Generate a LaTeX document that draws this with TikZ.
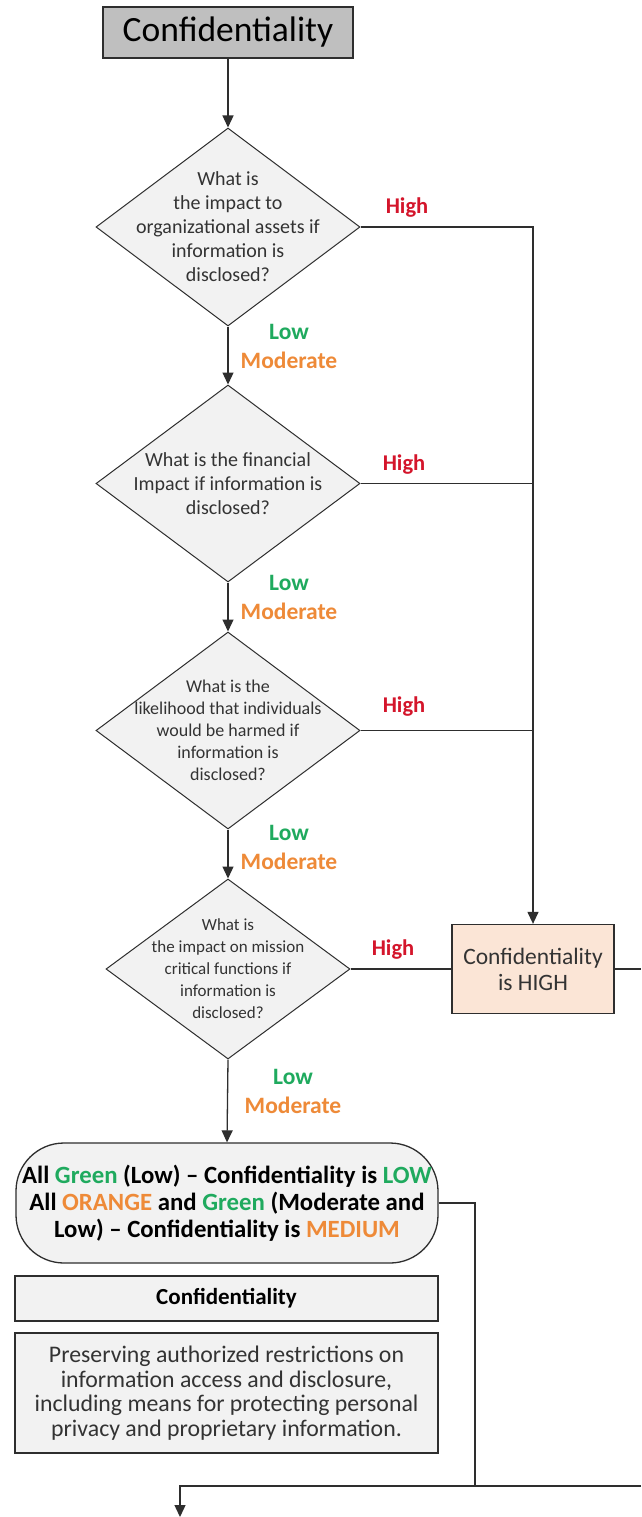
\documentclass[tikz,border=0pt]{standalone}
\usepackage{fontspec}
\setmainfont{Carlito}
\usetikzlibrary{shapes.geometric,arrows.meta}
\definecolor{hired}{HTML}{D4152B}
\definecolor{logreen}{HTML}{1FAA5E}
\definecolor{modorange}{HTML}{EE8A38}
\definecolor{boxgray}{HTML}{F2F2F2}
\definecolor{titlegray}{HTML}{BFBFBF}
\definecolor{peach}{HTML}{FBE5D6}
\definecolor{edgecol}{HTML}{2E2E2E}
\definecolor{txtgray}{HTML}{333333}
\newcommand{\fsz}[2]{\fontsize{#1}{#2}\selectfont}
\tikzset{
  conn/.style={draw=edgecol, line width=1.3pt},
  arr/.style={-{Triangle[width=11pt,length=12pt]}},
  titlebox/.style={draw=edgecol, fill=titlegray, line width=1.4pt, minimum width=250pt, minimum height=51pt, inner sep=0pt, font=\fsz{35.5}{40}},
  dia/.style={diamond, draw=edgecol, fill=boxgray, line width=1pt, inner sep=0pt, aspect=1},
  diatext/.style={align=center, text=txtgray, inner sep=0pt},
  hilab/.style={text=hired, font=\bfseries\fsz{22.5}{26}, inner sep=0pt},
  lolab/.style={text=logreen, font=\bfseries\fsz{23.5}{26}, inner sep=0pt},
  modlab/.style={text=modorange, font=\bfseries\fsz{23.5}{26}, inner sep=0pt},
  highbox/.style={draw=edgecol, fill=peach, line width=1.3pt, minimum width=162pt, minimum height=89pt, inner sep=0pt, align=center, text=txtgray, font=\fsz{23.5}{26}},
  resbox/.style={draw=edgecol, fill=boxgray, line width=1.3pt, rounded corners=48pt, minimum width=422pt, minimum height=120pt, inner sep=0pt, align=center, font=\bfseries\fsz{24.8}{27}},
  hdrbox/.style={draw=edgecol, fill=boxgray, line width=1.3pt, minimum width=423pt, minimum height=45pt, inner sep=0pt, font=\bfseries\fsz{23}{27}},
  descbox/.style={draw=edgecol, fill=boxgray, line width=1.3pt, minimum width=423pt, minimum height=120pt, inner sep=0pt, align=center, text=txtgray, font=\fsz{23.8}{24.5}}
}
\begin{document}
\begin{tikzpicture}[x=1pt,y=-1pt]
\useasboundingbox (0,0) rectangle (641,1517);
\fill[white] (0,0) rectangle (641,1517);

\node[titlebox] (title) at (228,32.5) {Confidentiality};

\node[dia, minimum width=264pt, minimum height=198pt,
  label={[diatext, font=\fsz{20}{24}]center:What is\\the impact to\\organizational assets if\\information is\\disclosed?}] (d1) at (228,227) {};
\node[dia, minimum width=264pt, minimum height=197pt,
  label={[diatext, font=\fsz{20}{24}]center:What is the financial\\Impact if information is\\disclosed?}] (d2) at (228,483.5) {};
\node[dia, minimum width=264pt, minimum height=197pt,
  label={[diatext, font=\fsz{18}{22}]center:What is the\\likelihood that individuals\\would be harmed if\\information is\\disclosed?}] (d3) at (228,730.5) {};
\node[dia, minimum width=244pt, minimum height=180pt,
  label={[diatext, font=\fsz{17}{22}]center:What is\\the impact on mission\\critical functions if\\information is\\disclosed?}] (d4) at (228,969) {};

\node[highbox] (high) at (533,969) {Confidentiality\\is HIGH};

\node[resbox] (res) at (227,1203) {All {\color{logreen}Green} (Low) -- Confidentiality is {\color{logreen}LOW}\\All {\color{modorange}ORANGE} and {\color{logreen}Green} (Moderate and\\Low) -- Confidentiality is {\color{modorange}MEDIUM}};

\node[hdrbox] (hdr) at (226.5,1298.5) {Confidentiality};
\node[descbox] (desc) at (226.5,1393) {Preserving authorized restrictions on\\information access and disclosure,\\including means for protecting personal\\privacy and proprietary information.};

% labels
\node[hilab] (h1) at (407,208) {High};
\node[hilab] (h2) at (404,465) {High};
\node[hilab] (h3) at (404,707) {High};
\node[hilab] (h4) at (393,950) {High};
\node[lolab] (l1) at (289,332) {Low};
\node[modlab] (m1) at (289,360) {Moderate};
\node[lolab] (l2) at (289,583) {Low};
\node[modlab] (m2) at (289,611) {Moderate};
\node[lolab] (l3) at (289,833) {Low};
\node[modlab] (m3) at (289,861) {Moderate};
\node[lolab] (l4) at (293,1077) {Low};
\node[modlab] (m4) at (293,1105) {Moderate};

% coordinates
\coordinate (rightedge) at (641,969);
\coordinate (join) at (475,1486);
\coordinate (botedge) at (641,1486);
\coordinate (bottip) at (180,1517);

% connectors
\draw[conn,arr] (title.south) -- (d1.north);
\draw[conn,arr] (d1.south) -- (d2.north);
\draw[conn,arr] (d2.south) -- (d3.north);
\draw[conn,arr] (d3.south) -- (d4.north);
\draw[conn,arr] (d4.south) -- (res.north);
\draw[conn,arr] (d1.east) -| (high.north);
\draw[conn] (d2.east) -- (d2.east -| high.north);
\draw[conn] (d3.east) -- (d3.east -| high.north);
\draw[conn] (d4.east) -- (high.west);
\draw[conn] (high.east) -- (rightedge);
\draw[conn] (res.east) -| (join);
\draw[conn,arr] (botedge) -| (bottip);
\end{tikzpicture}
\end{document}
